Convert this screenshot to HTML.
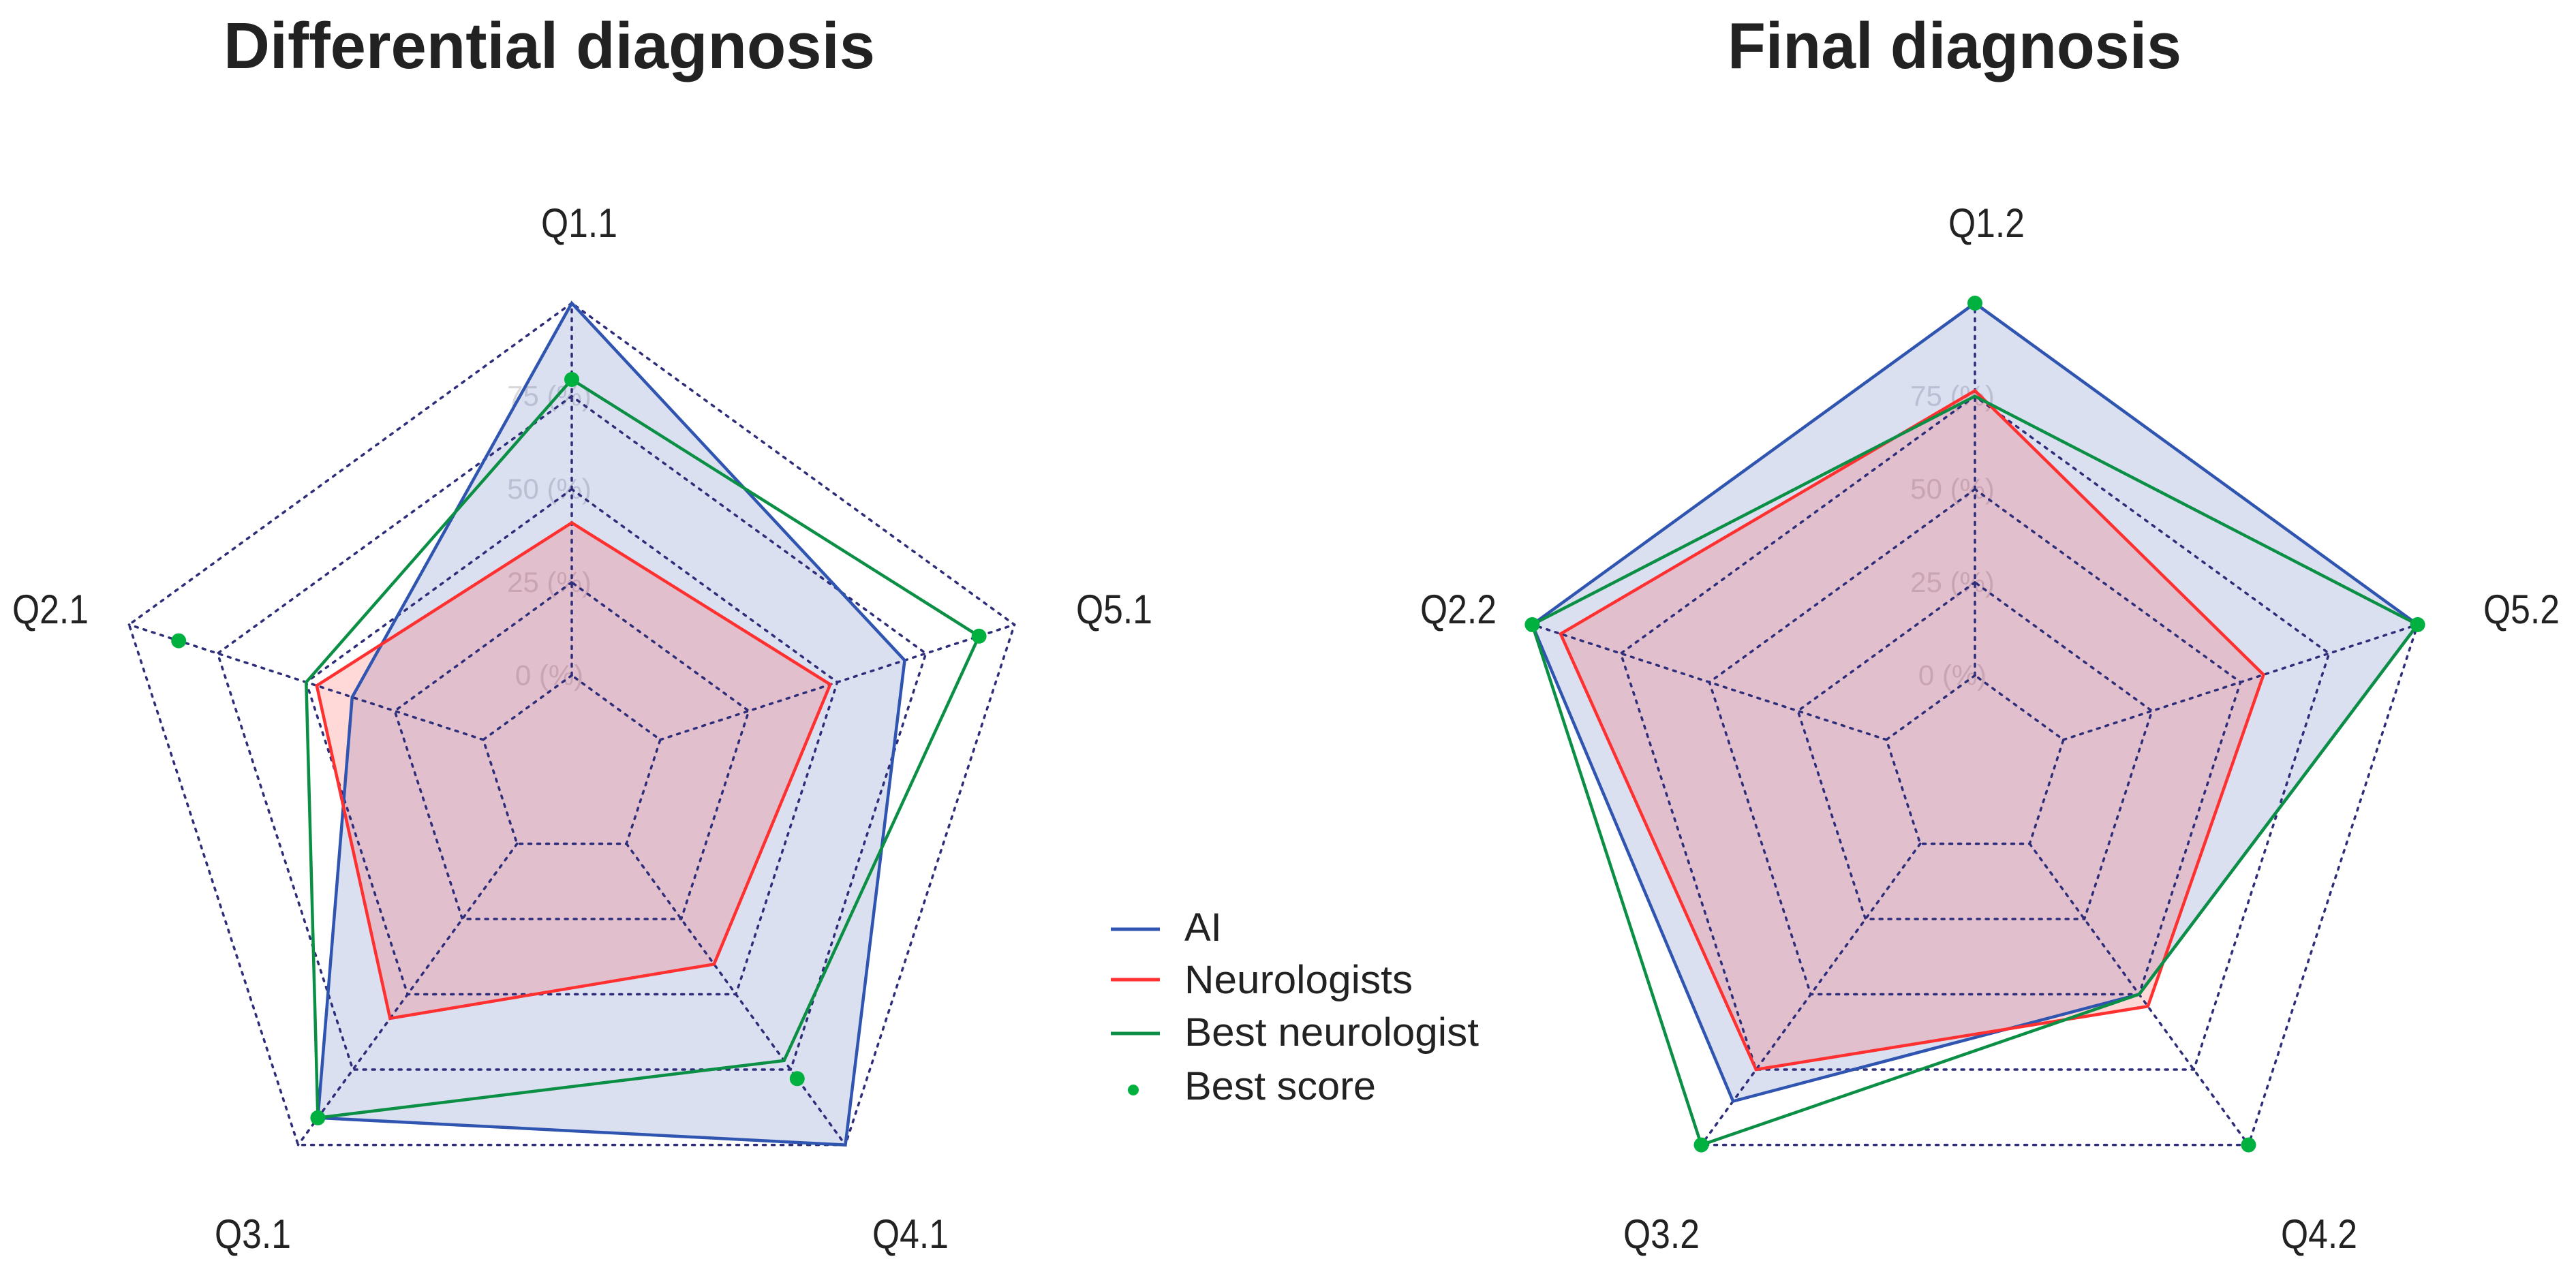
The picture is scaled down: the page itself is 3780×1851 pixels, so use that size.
<!DOCTYPE html>
<html><head><meta charset="utf-8">
<style>
html,body{margin:0;padding:0;background:#fff;}
svg{display:block;font-family:"Liberation Sans",sans-serif;}
</style></head>
<body>
<svg id="chart" width="3780" height="1851" viewBox="0 0 3780 1851" xmlns="http://www.w3.org/2000/svg">
<rect width="3780" height="1851" fill="#fff"/>
<text x="806" y="100" font-size="96" font-weight="bold" fill="#222" text-anchor="middle" textLength="956" lengthAdjust="spacingAndGlyphs">Differential diagnosis</text>
<text x="2868" y="100" font-size="96" font-weight="bold" fill="#222" text-anchor="middle" textLength="666" lengthAdjust="spacingAndGlyphs">Final diagnosis</text>
<g id="left"></g>
<g id="right"></g>
<g id="legend">
  <line x1="1630" y1="1364" x2="1702" y2="1364" stroke="#2f55b0" stroke-width="5"/>
  <text x="1738" y="1381" font-size="58" fill="#222">AI</text>
  <line x1="1630" y1="1438" x2="1702" y2="1438" stroke="#ff3030" stroke-width="5"/>
  <text x="1738" y="1458" font-size="58" fill="#222" textLength="335" lengthAdjust="spacingAndGlyphs">Neurologists</text>
  <line x1="1630" y1="1517" x2="1702" y2="1517" stroke="#0a8f45" stroke-width="5"/>
  <text x="1738" y="1535" font-size="58" fill="#222" textLength="432" lengthAdjust="spacingAndGlyphs">Best neurologist</text>
  <circle cx="1663" cy="1600" r="8" fill="#00b140"/>
  <text x="1738" y="1614" font-size="58" fill="#222" textLength="281" lengthAdjust="spacingAndGlyphs">Best score</text>
</g>
</svg>
<script>
const leftCategories = ["Q1.1","Q2.1","Q3.1","Q4.1","Q5.1"];
const rightCategories = ["Q1.2","Q2.2","Q3.2","Q4.2","Q5.2"];
const leftAI = [100, 37, 91, 100, 69];
const leftNeuro = [41, 47, 58, 40, 48];
const leftBest = [79.5, 50, 91, 72, 90];
const leftBestScore = [79.5, 86, 91, 78, 90];
const rightAI = [100, 100, 85.5, 50, 100];
const rightNeuro = [76.5, 92, 75, 54, 56.5];
const rightBest = [75, 100, 100, 50, 100];
const rightBestScore = [100, 100, 100, 100, 100];
const ringValues = [0, 25, 50, 75, 100];
const tickLabels = ["0 (%)", "25 (%)", "50 (%)", "75 (%)"];
const rMin = -25, rMax = 100;

const NS = "http://www.w3.org/2000/svg";
const R = 683, CY = 1128;
function mk(tag, attrs, parent){
  const e = document.createElementNS(NS, tag);
  for (const k in attrs) e.setAttribute(k, attrs[k]);
  parent.appendChild(e);
  return e;
}
function rScale(v){ return (v - rMin) / (rMax - rMin) * R; }
function pt(cx, i, v){
  const a = (90 + 72 * i) * Math.PI / 180;
  const r = rScale(v);
  return [cx + r * Math.cos(a), CY - r * Math.sin(a)];
}
function poly(cx, vals){ return vals.map((v,i)=>pt(cx,i,v).map(n=>n.toFixed(1)).join(",")).join(" "); }

function drawRadar(g, cx, cats, ai, neuro, best, bestScore, labelPos, prefix){
  tickLabels.forEach((t, k) => {
    const p = pt(cx, 0, ringValues[k]);
    const el = mk("text", {x: cx - 33, y: p[1] + 14, "font-size": 42, fill: "#a09aa8", "fill-opacity": 0.4, "text-anchor": "middle"}, g);
    el.textContent = t;
    
    
  });
  const aiFill = mk("polygon", {points: poly(cx, ai), fill: "rgb(49,84,170)", "fill-opacity": 0.18, stroke: "none"}, g);
  
  
  const nFill = mk("polygon", {points: poly(cx, neuro), fill: "rgb(255,60,60)", "fill-opacity": 0.2, stroke: "none"}, g);
  
  
  ringValues.forEach(v => {
    const ring = mk("polygon", {points: poly(cx, [v,v,v,v,v]), fill: "none", stroke: "#2d2d7a", "stroke-width": 3.5, "stroke-dasharray": "4 9", "stroke-linecap": "round"}, g);
    
    
  });
  cats.forEach((c, i) => {
    const p0 = pt(cx, i, ringValues[0]);
    const p = pt(cx, i, rMax);
    const sp = mk("line", {x1: p0[0].toFixed(1), y1: p0[1].toFixed(1), x2: p[0].toFixed(1), y2: p[1].toFixed(1), stroke: "#2d2d7a", "stroke-width": 3.5, "stroke-dasharray": "4 9", "stroke-linecap": "round"}, g);
    
    
    const lp = labelPos[i];
    const t = mk("text", {x: lp[0], y: lp[1], "font-size": 60, fill: "#222", "text-anchor": "middle", textLength: 112, lengthAdjust: "spacingAndGlyphs"}, g);
    t.textContent = c;
    
    
  });
  const aiLine = mk("polygon", {points: poly(cx, ai), fill: "none", stroke: "#2f55b0", "stroke-width": 4.5}, g);
  
  
  const nLine = mk("polygon", {points: poly(cx, neuro), fill: "none", stroke: "#ff3030", "stroke-width": 4.5}, g);
  
  
  const bLine = mk("polygon", {points: poly(cx, best), fill: "none", stroke: "#0a8f45", "stroke-width": 4.5}, g);
  
  
  bestScore.forEach((v, i) => {
    const p = pt(cx, i, v);
    const d = mk("circle", {cx: p[0].toFixed(1), cy: p[1].toFixed(1), r: 11, fill: "#00b140"}, g);
    
    
  });
}
drawRadar(document.getElementById("left"), 839, leftCategories, leftAI, leftNeuro, leftBest, leftBestScore,
  [[850,348],[74,915],[371,1832],[1336,1832],[1635,915]], "left");
drawRadar(document.getElementById("right"), 2898, rightCategories, rightAI, rightNeuro, rightBest, rightBestScore,
  [[2915,348],[2140,915],[2438,1832],[3403,1832],[3700,915]], "right");
</script>
</body></html>
